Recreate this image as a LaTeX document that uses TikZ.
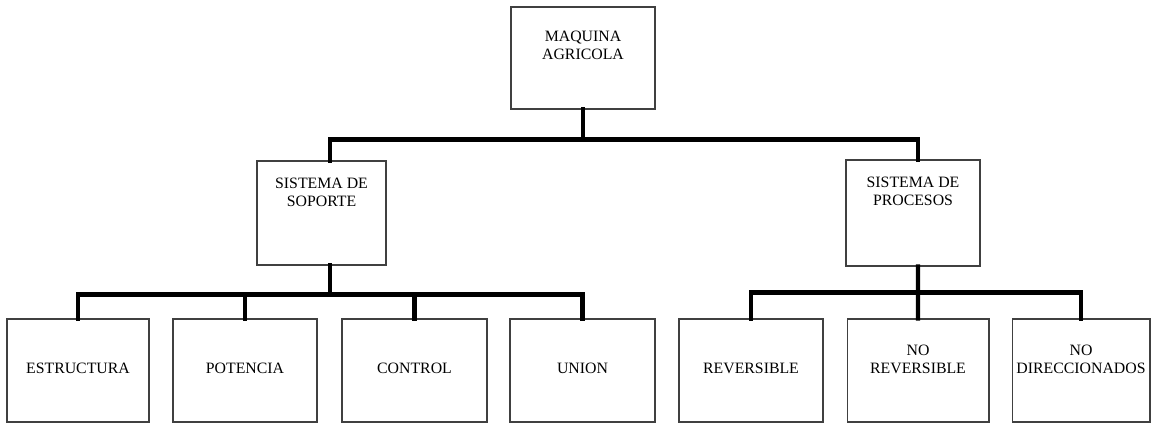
\documentclass[tikz,border=0pt]{standalone}
\usepackage{fontspec}
\setmainfont{Liberation Serif}
\usepackage{tikz}
\usetikzlibrary{positioning}

\begin{document}
\begin{tikzpicture}[x=0.02cm,y=-0.02cm,
  box/.style={draw=black!75,line width=0.6pt,minimum width=#1,minimum height=2.06cm,inner sep=0pt},
  conn/.style={line width=2.4pt,line join=miter,line cap=rect},
  txt/.style={inner sep=0pt,align=center,font=\fontsize{9}{10.4}\selectfont}]
  \useasboundingbox (0,0) rectangle (1152,423);

  %top
  \node[box=2.88cm,minimum height=2.04cm] (maq) at (583,58) {};
  \node[txt,below=0.48cm] (maqt) at (maq.north) {MAQUINA\\AGRICOLA};

  %middle left and right
  \node[box=2.58cm,minimum height=2.08cm] (sop) at (321.5,213) {};
  \node[txt,below=0.34cm] (sopt) at (sop.north) {SISTEMA DE\\SOPORTE};
  \node[box=2.68cm,minimum height=2.12cm] (pro) at (913,213) {};
  \node[txt,below=0.34cm] (prot) at (pro.north) {SISTEMA DE\\PROCESOS};

  %bottom left
  \node[box=2.84cm] (est) at (78,370.5) {};
  \node[txt,below=0.88cm] (estt) at (est.north) {ESTRUCTURA};
  \node[box=2.88cm] (pot) at (245,370.5) {};
  \node[txt,below=0.88cm] (pott) at (pot.north) {POTENCIA};
  \node[box=2.9cm] (con) at (414.5,370.5) {};
  \node[txt,below=0.88cm] (cont) at (con.north) {CONTROL};
  \node[box=2.9cm] (uni) at (582.5,370.5) {};
  \node[txt,below=0.88cm] (unit) at (uni.north) {UNION};

  %bottom right
  \node[box=2.88cm] (rev) at (751,370.5) {};
  \node[txt,below=0.88cm] (revt) at (rev.north) {REVERSIBLE};
  \node[box=2.84cm] (nor) at (918,370.5) {};
  \node[txt,below=0.52cm] (nort) at (nor.north) {NO\\REVERSIBLE};
  \node[box=2.76cm] (nod) at (1081,370.5) {};
  \node[txt,below=0.52cm] (nodt) at (nod.north) {NO\\DIRECCIONADOS};

  %connectors
  \draw[conn] (maq.south) -- ++(0,30) coordinate (jtop);
  \draw[conn] ([xshift=0.17cm]sop.north) |- (jtop) -| ([xshift=0.1cm]pro.north);
  \draw[conn] ([xshift=0.17cm]sop.south) -- ++(0,29) coordinate (jsop);
  \draw[conn] (est.north) |- (jsop) -| (uni.north);
  \draw[conn] (pot.north) -- (pot.north |- jsop);
  \draw[conn] (con.north) -- (con.north |- jsop);
  \draw[conn] ([xshift=0.1cm]pro.south) -- coordinate (jpro) (nor.north);
  \draw[conn] (rev.north) |- (jpro) -| (nod.north);
\end{tikzpicture}
\end{document}
